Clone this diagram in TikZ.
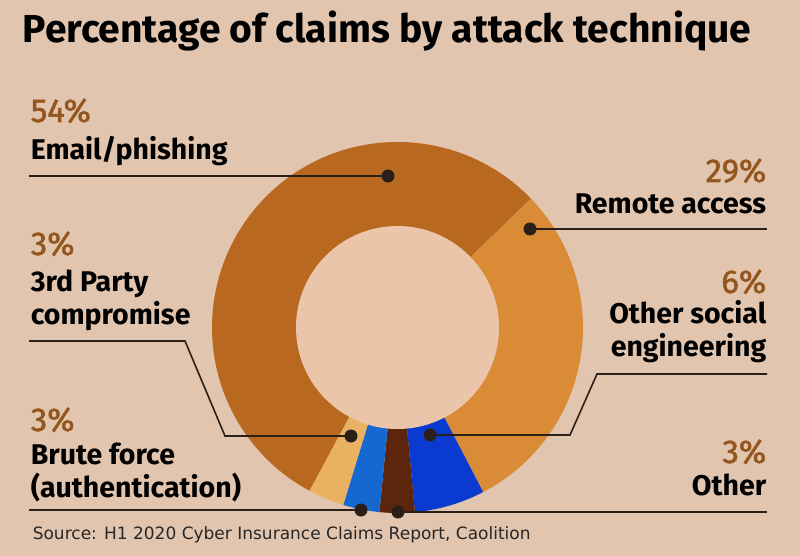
\documentclass[tikz,border=0pt]{standalone}
\usepackage{fontspec}
\setmainfont{Fira Sans}
\newfontface\pctfont{Fira Sans}[FakeBold=1.6]
\newfontfamily\sourcefont{DejaVu Sans}
\definecolor{bgc}{HTML}{E2C5AF}
\definecolor{holec}{HTML}{EBC5AA}
\definecolor{pctc}{HTML}{93561F}
\definecolor{emailc}{HTML}{B8691F}
\definecolor{remotec}{HTML}{D98C35}
\definecolor{socialc}{HTML}{0A3AD0}
\definecolor{otherc}{HTML}{5C250C}
\definecolor{brutec}{HTML}{1468D0}
\definecolor{partyc}{HTML}{E8B262}
\definecolor{dotc}{HTML}{2A2018}

\begin{document}
\begin{tikzpicture}[x=1pt,y=-1pt,line width=1.6pt,
  pct/.style={inner sep=0pt,text=pctc,font=\pctfont\fontsize{33}{34}\selectfont},
  label text/.style={inner sep=0pt,font=\bfseries\fontsize{28.5}{32.5}\selectfont},
  dot/.style={circle,fill=dotc,inner sep=0pt,minimum size=13pt}]

  \fill[bgc] (0,0) rectangle (800,556);
  \useasboundingbox (0,0) rectangle (800,556);

  \node[anchor=base west,inner sep=0pt,font=\bfseries\fontsize{39}{40}\selectfont] (title) at (22,43) {Percentage of claims by attack technique};

  % donut
  \begin{scope}[xshift=397.5pt,yshift=-327.5pt,y=1pt]
    \fill[emailc] (0,0) -- (44:185.5) arc[start angle=44,end angle=241.7,radius=185.5] -- cycle;
    \fill[remotec] (0,0) -- (-62.5:185.5) arc[start angle=-62.5,end angle=44,radius=185.5] -- cycle;
    \fill[socialc] (0,0) -- (-84.6:185.5) arc[start angle=-84.6,end angle=-62.5,radius=185.5] -- cycle;
    \fill[otherc] (0,0) -- (-95.6:185.5) arc[start angle=-95.6,end angle=-84.6,radius=185.5] -- cycle;
    \fill[brutec] (0,0) -- (-107:185.5) arc[start angle=-107,end angle=-95.6,radius=185.5] -- cycle;
    \fill[partyc] (0,0) -- (-118.3:185.5) arc[start angle=-118.3,end angle=-107,radius=185.5] -- cycle;
    \fill[holec] (0,0) circle[radius=101.5];
  \end{scope}

  % left labels
  \node[pct,anchor=base west] (email pct) at (30,122) {54\%};
  \node[label text,anchor=base west] (email) at (30,160) {Email/phishing};
  \node[pct,anchor=base west] (party pct) at (30,255) {3\%};
  \node[label text,anchor=base west,align=left] (party) at (30,324) {3rd Party\\compromise};
  \node[pct,anchor=base west] (brute pct) at (30,431) {3\%};
  \node[label text,anchor=base west,align=left] (brute) at (30,497) {Brute force\\(authentication)};

  % right labels
  \node[pct,anchor=base east] (remote pct) at (767,182) {29\%};
  \node[label text,anchor=base east] (remote) at (767,213) {Remote access};
  \node[pct,anchor=base east] (social pct) at (767,293) {6\%};
  \node[label text,anchor=base east,align=right] (social) at (767,356) {Other social\\engineering};
  \node[pct,anchor=base east] (other pct) at (767,463) {3\%};
  \node[label text,anchor=base east] (other) at (767,495) {Other};

  % dots
  \node[dot] (email dot) at (388,176) {};
  \node[dot] (remote dot) at (530,229) {};
  \node[dot] (party dot) at (351,436) {};
  \node[dot] (social dot) at (430,435) {};
  \node[dot] (brute dot) at (361,510) {};
  \node[dot] (other dot) at (398,512) {};

  \coordinate (email end) at (29,176);
  \coordinate (remote end) at (767,229);
  \coordinate (party end) at (29,341);
  \coordinate (social end) at (767,374);
  \coordinate (brute end) at (29,510);
  \coordinate (other end) at (767,512);

  \draw[dotc] (email end) -- (email dot.center);
  \draw[dotc] (remote dot.center) -- (remote end);
  \draw[dotc] (party end) -- (185,341) -- (225,436) -- (party dot.center);
  \draw[dotc] (social end) -- (597,374) -- (570,435) -- (social dot.center);
  \draw[dotc] (brute end) -- (brute dot.center);
  \draw[dotc] (other dot.center) -- (other end);

  \node[anchor=base west,inner sep=0pt,font=\sourcefont\fontsize{17}{19}\selectfont,text=black!85] (source) at (32,539) {Source: H1 2020 Cyber Insurance Claims Report, Caolition};
\end{tikzpicture}
\end{document}
